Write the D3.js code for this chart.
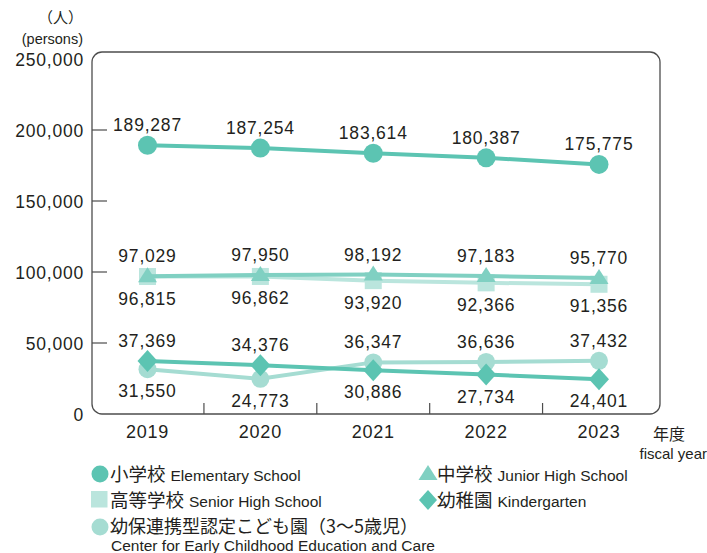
<!DOCTYPE html>
<html><head><meta charset="utf-8">
<script src="https://cdn.jsdelivr.net/npm/d3@7"></script>
<style>
body{margin:0;background:#fff;}
svg{display:block;}
.num{font-family:"Liberation Sans",Arial,sans-serif;font-size:17.5px;letter-spacing:0.8px;fill:#231f20;}
.jp{font-family:"Noto Sans CJK JP",sans-serif;fill:#231f20;}
.en{font-family:"Liberation Sans",Arial,sans-serif;fill:#231f20;}
</style></head>
<body><svg id="c" width="707" height="553"></svg>
<script>
const years = ["2019","2020","2021","2022","2023"];
const elementary = [189287,187254,183614,180387,175775];
const junior = [97029,97950,98192,97183,95770];
const senior = [96815,96862,93920,92366,91356];
const kindergarten = [37369,34376,30886,27734,24401];
const center = [31550,24773,36347,36636,37432];
const yTicks = [0,50000,100000,150000,200000,250000];

const colElem = "#5cc4b2", colJun = "#80d0c2", colSen = "#bae5dd", colKG = "#5cc4b2", colCtr = "#a5dcd2";

const svg = d3.select("#c");
const box = {l:92, r:660, t:52, b:414};
const x = d3.scalePoint().domain(years).range([147.5, 599]);
const y = d3.scaleLinear().domain([0,250000]).range([414, 59]);
const fmt = d3.format(",");

// frame
svg.append("rect").attr("x",box.l).attr("y",box.t).attr("width",box.r-box.l).attr("height",box.b-box.t)
  .attr("rx",10).attr("ry",10).attr("fill","none").attr("stroke","#4d4d4d").attr("stroke-width",1.3);

// y ticks (inside)
yTicks.filter(d=>d>0 && d<250000).forEach(d=>{
  svg.append("line").attr("x1",box.l).attr("x2",box.l+15).attr("y1",y(d)).attr("y2",y(d)).attr("stroke","#4d4d4d").attr("stroke-width",1.2);
});
yTicks.forEach(d=>{
  svg.append("text").attr("class","num").attr("x",84).attr("y",y(d)+6.5).attr("text-anchor","end").text(fmt(d));
});
// x ticks between categories
const step = x.step();
years.slice(0,-1).forEach(yr=>{
  const xx = x(yr)+step/2;
  svg.append("line").attr("x1",xx).attr("x2",xx).attr("y1",box.b).attr("y2",box.b-11).attr("stroke","#4d4d4d").attr("stroke-width",1.2);
});
years.forEach(yr=>{
  svg.append("text").attr("class","num").attr("x",x(yr)).attr("y",438).attr("text-anchor","middle").style("font-size","18px").text(yr);
});

// axis titles
svg.append("text").attr("class","jp").attr("x",83).attr("y",23).attr("text-anchor","end").style("font-size","15px").text("（人）");
svg.append("text").attr("class","en").attr("x",83).attr("y",44).attr("text-anchor","end").style("font-size","14.5px").text("(persons)");
svg.append("text").attr("class","jp").attr("x",669).attr("y",440).attr("text-anchor","middle").style("font-size","16px").text("年度");
svg.append("text").attr("class","en").attr("x",707).attr("y",459).attr("text-anchor","end").style("font-size","15px").text("fiscal year");

const line = d3.line().x((d,i)=>x(years[i])).y(d=>y(d));
function drawLine(data,color){
  svg.append("path").attr("d",line(data)).attr("fill","none").attr("stroke",color).attr("stroke-width",4);
}
// senior
drawLine(senior,colSen);
senior.forEach((d,i)=>svg.append("rect").attr("x",x(years[i])-8.5).attr("y",y(d)-8.5).attr("width",17).attr("height",17).attr("fill",colSen));
// center
drawLine(center,colCtr);
center.forEach((d,i)=>svg.append("circle").attr("cx",x(years[i])).attr("cy",y(d)).attr("r",9).attr("fill",colCtr));
// junior
drawLine(junior,colJun);
junior.forEach((d,i)=>svg.append("path").attr("d",`M${x(years[i])},${y(d)-9}L${x(years[i])+9.5},${y(d)+6}L${x(years[i])-9.5},${y(d)+6}Z`).attr("fill",colJun));
// kindergarten
drawLine(kindergarten,colKG);
kindergarten.forEach((d,i)=>svg.append("path").attr("d",`M${x(years[i])},${y(d)-11}L${x(years[i])+10},${y(d)}L${x(years[i])},${y(d)+11}L${x(years[i])-10},${y(d)}Z`).attr("fill",colKG));
// elementary
drawLine(elementary,colElem);
elementary.forEach((d,i)=>svg.append("circle").attr("cx",x(years[i])).attr("cy",y(d)).attr("r",9.5).attr("fill",colElem));

// value labels
function label(v,i,above){
  svg.append("text").attr("class","num").attr("x",x(years[i])).attr("y",above? y(v)-14 : y(v)+28).attr("text-anchor","middle").text(fmt(v));
}
elementary.forEach((v,i)=>label(v,i,true));
junior.forEach((v,i)=>label(v,i,true));
senior.forEach((v,i)=>label(v,i,false));
kindergarten.forEach((v,i)=>label(v,i,v>=center[i]));
center.forEach((v,i)=>label(v,i,v>kindergarten[i]));

// legend
function legText(xx,yy,jp,en){
  const t = svg.append("text").attr("x",xx).attr("y",yy);
  t.append("tspan").attr("class","jp").style("font-size","18.5px").text(jp);
  if(en) t.append("tspan").attr("class","en").attr("dx",5).style("font-size","15.5px").text(en);
}
svg.append("circle").attr("cx",100).attr("cy",474).attr("r",8.5).attr("fill",colElem);
legText(110,481,"小学校","Elementary School");
svg.append("path").attr("d","M428,465L437.5,480L418.5,480Z").attr("fill",colJun);
legText(437,481,"中学校","Junior High School");
svg.append("rect").attr("x",91).attr("y",491).attr("width",16.5).attr("height",16.5).attr("fill",colSen);
legText(110,507,"高等学校","Senior High School");
svg.append("path").attr("d","M428,490L437,500L428,510L419,500Z").attr("fill",colKG);
legText(437,507,"幼稚園","Kindergarten");
svg.append("circle").attr("cx",100).attr("cy",527).attr("r",8.5).attr("fill",colCtr);
svg.append("text").attr("class","jp").attr("x",110).attr("y",533).style("font-size","18px").text("幼保連携型認定こども園（3～5歳児）");
svg.append("text").attr("class","en").attr("x",111).attr("y",551).style("font-size","15.5px").text("Center for Early Childhood Education and Care");
</script></body></html>
